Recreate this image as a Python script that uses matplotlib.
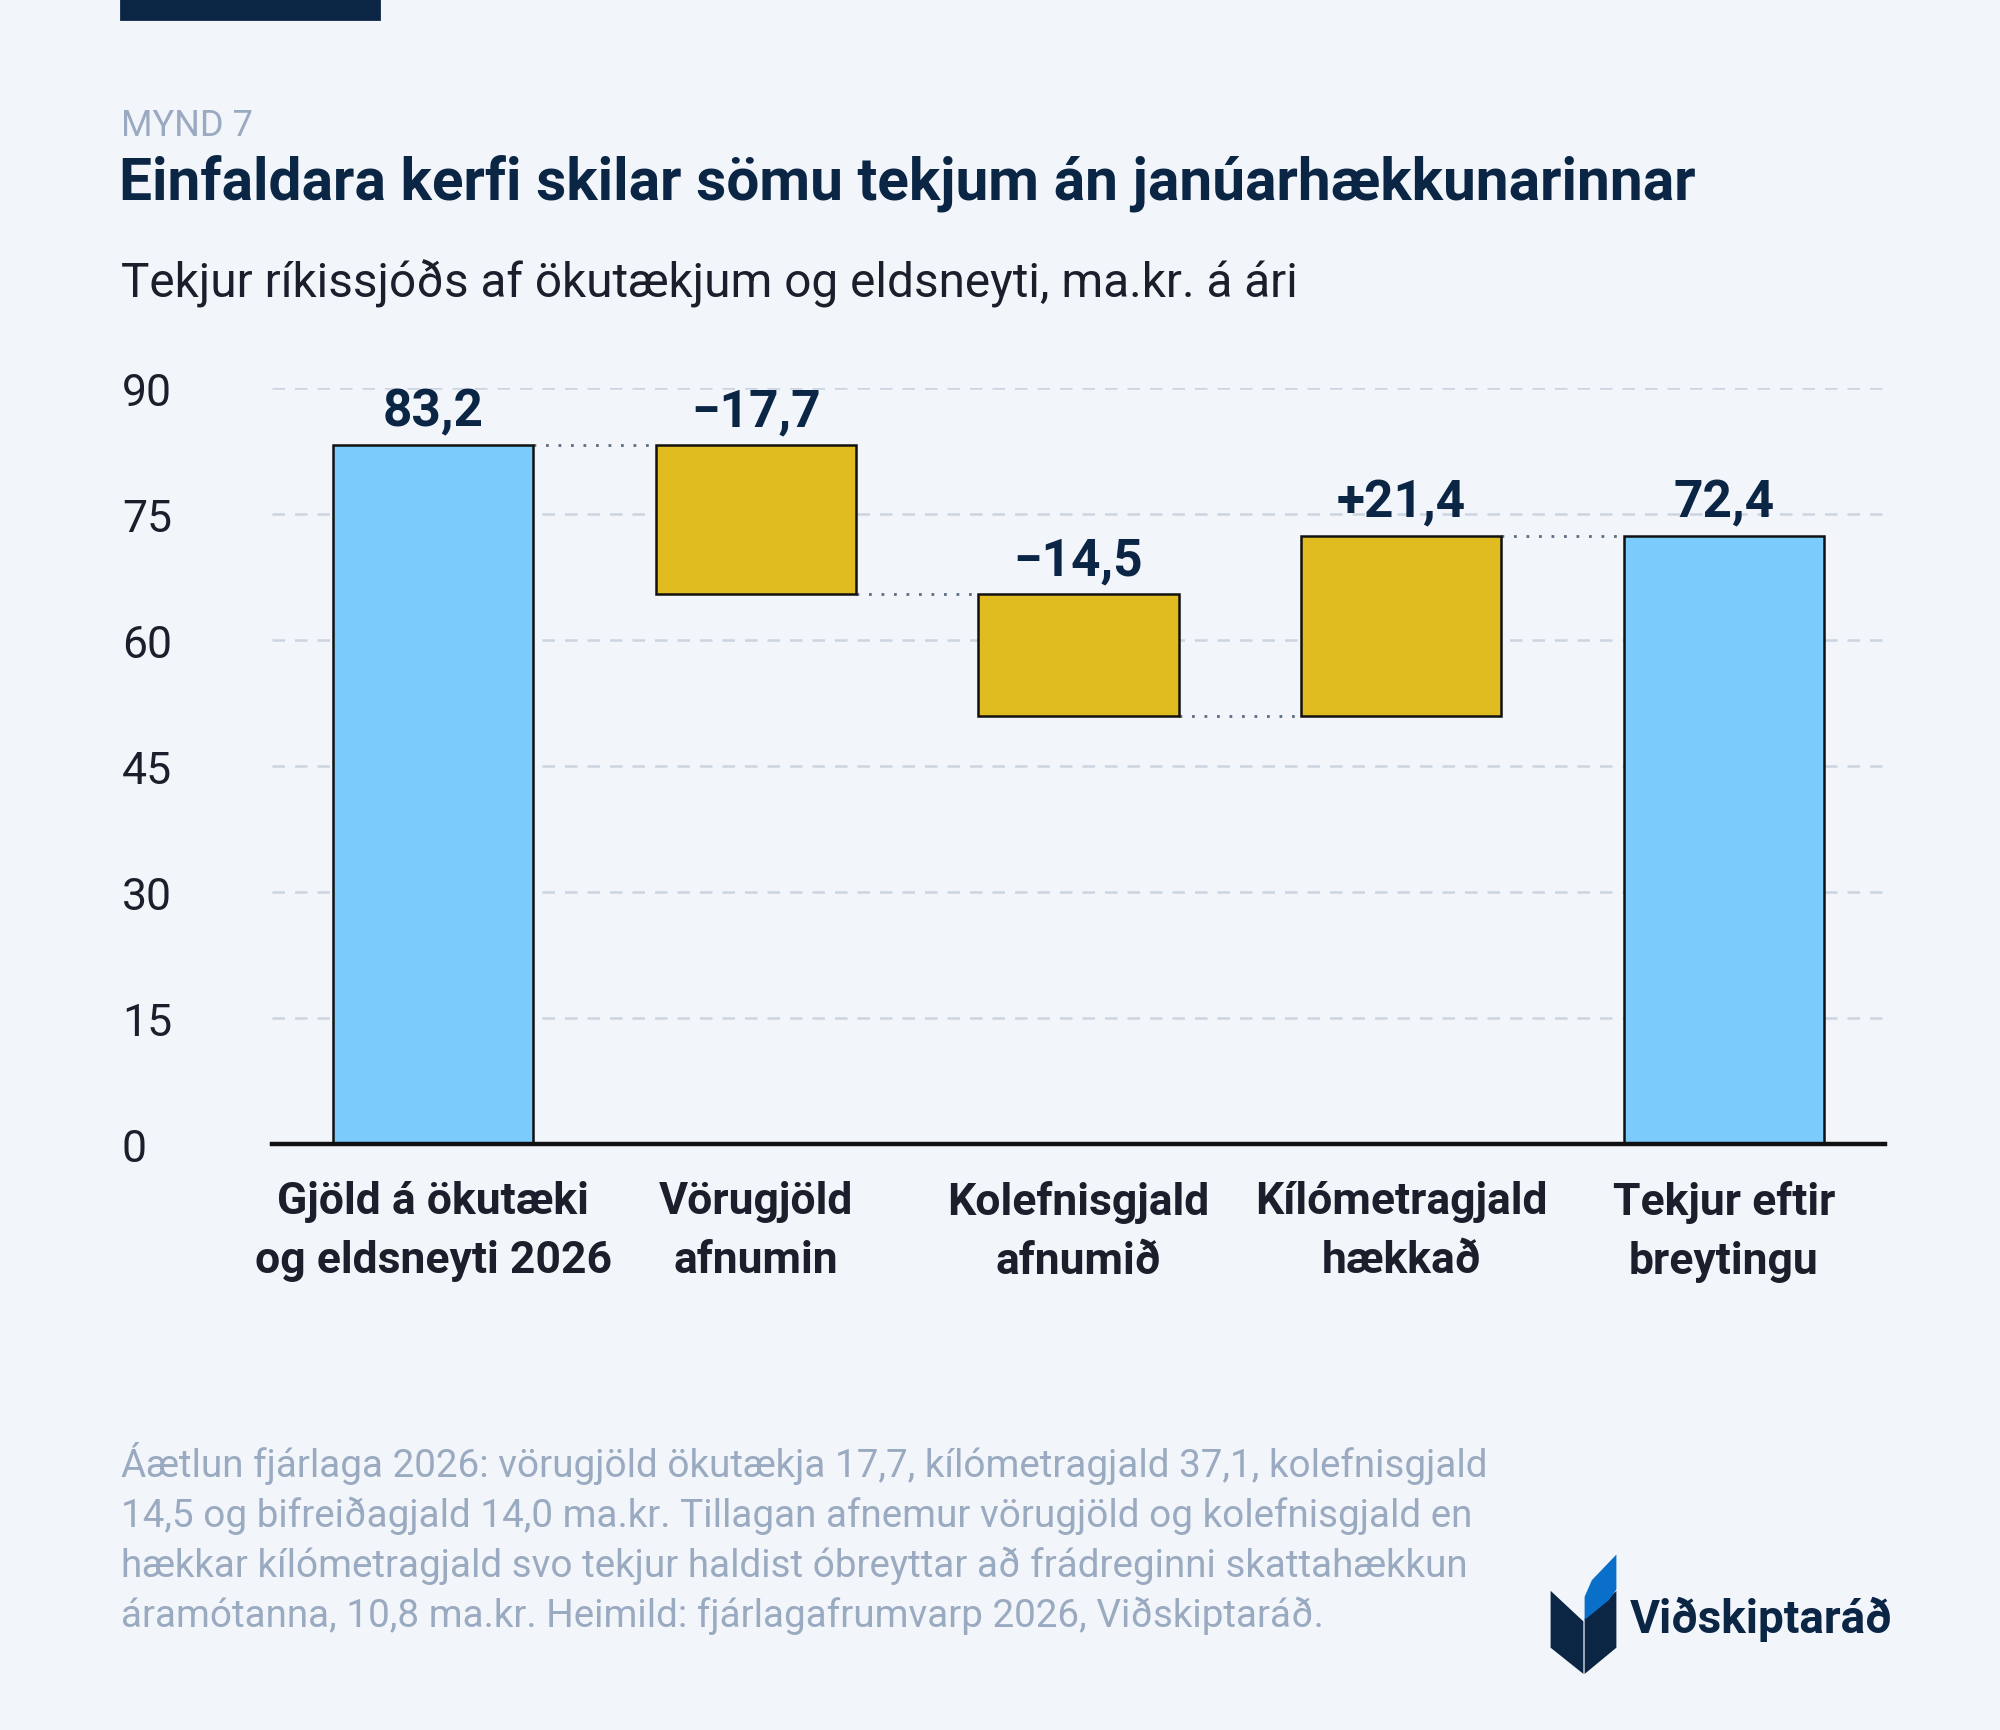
import matplotlib.pyplot as plt
from matplotlib.patches import Polygon, Rectangle

plt.rcParams['font.family'] = ['Roboto', 'DejaVu Sans']

# data
categories = ['Gjöld á ökutæki\nog eldsneyti 2026', 'Vörugjöld\nafnumin', 'Kolefnisgjald\nafnumið',
              'Kílómetragjald\nhækkað', 'Tekjur eftir\nbreytingu']
changes = [83.2, -17.7, -14.5, 21.4, 72.4]
kinds = ['total', 'delta', 'delta', 'delta', 'total']
value_labels = ['83,2', '−17,7', '−14,5', '+21,4', '72,4']
y_ticks = [0, 15, 30, 45, 60, 75, 90]

BG = '#F2F5FA'
NAVY = '#0B2545'
BLUE = '#7CCBFD'
GOLD = '#E0BC20'
GREY = '#9AAAC0'

W, H = 2000, 1731
fig = plt.figure(figsize=(10, H / 200), dpi=200, facecolor=BG)

def fx(px):
    return px / W

def fy(py):
    return 1 - py / H

ax = fig.add_axes([fx(272), fy(1145), fx(1885) - fx(272), fy(389) - fy(1145)])
ax.set_facecolor(BG)

# waterfall bars
bottoms, heights, colors, levels = [], [], [], []
running = 0
for v, k in zip(changes, kinds):
    if k == 'total':
        bottoms.append(0)
        heights.append(v)
        colors.append(BLUE)
        running = v
    else:
        bottoms.append(min(running, running + v))
        heights.append(abs(v))
        colors.append(GOLD)
        running += v
    levels.append(running)

x = list(range(len(categories)))
width = 0.62
ax.bar(x, heights, bottom=bottoms, width=width, color=colors, edgecolor='#111111',
       linewidth=0.9, zorder=3)

# dotted connectors
for i in range(len(x) - 1):
    ax.plot([x[i] + width / 2, x[i + 1] - width / 2], [levels[i], levels[i]],
            linestyle=(0, (1, 3.5)), color='#5E6E82', linewidth=1.0, zorder=2)

# value labels
for i, lab in enumerate(value_labels):
    ax.annotate(lab, (x[i], bottoms[i] + heights[i]), xytext=(0, 7), textcoords='offset points',
                ha='center', va='baseline', fontsize=18.5, fontweight='bold', color=NAVY,
                annotation_clip=False, zorder=4)

ax.set_xlim(-0.5, len(x) - 0.5)
ax.set_ylim(0, 90)
ax.set_yticks(y_ticks)
ax.set_yticklabels([str(t) for t in y_ticks], fontsize=16, color='#1A1F2B', ha='left')
ax.tick_params(axis='y', length=0, pad=54)
ax.set_xticks(x)
ax.set_xticklabels(categories, fontsize=16, fontweight='bold', color='#1A1F2B', linespacing=1.5)
ax.tick_params(axis='x', length=0, pad=13)
ax.grid(axis='y', linestyle=(0, (5, 4)), color='#CBD4E0', linewidth=0.9, zorder=0)
ax.set_axisbelow(True)
for s in ['top', 'right', 'left']:
    ax.spines[s].set_visible(False)
ax.spines['bottom'].set_color('#111111')
ax.spines['bottom'].set_linewidth(1.6)
ax.spines['bottom'].set_zorder(5)

# header
fig.patches.append(Rectangle((fx(121), fy(20)), fx(379) - fx(121), fy(0) - fy(20),
                             transform=fig.transFigure, color=NAVY))
fig.text(fx(121), fy(136), 'MYND 7', fontsize=13, color=GREY, va='baseline')
fig.text(fx(119), fy(200), 'Einfaldara kerfi skilar sömu tekjum án janúarhækkunarinnar',
         fontsize=21.1, fontweight='bold', color=NAVY, va='baseline')
fig.text(fx(121), fy(298), 'Tekjur ríkissjóðs af ökutækjum og eldsneyti, ma.kr. á ári',
         fontsize=17.2, color='#1A1F2B', va='baseline')

# footnote
note_lines = [
    'Áætlun fjárlaga 2026: vörugjöld ökutækja 17,7, kílómetragjald 37,1, kolefnisgjald',
    '14,5 og bifreiðagjald 14,0 ma.kr. Tillagan afnemur vörugjöld og kolefnisgjald en',
    'hækkar kílómetragjald svo tekjur haldist óbreyttar að frádreginni skattahækkun',
    'áramótanna, 10,8 ma.kr. Heimild: fjárlagafrumvarp 2026, Viðskiptaráð.',
]
for i, line in enumerate(note_lines):
    fig.text(fx(121), fy(1477 + 50 * i), line, fontsize=13.9, color=GREY, va='baseline')

# logo
left_leaf = [(1552, 1595), (1552, 1648), (1582, 1672), (1582, 1623)]
right_leaf = [(1586, 1620), (1615, 1595), (1615, 1648), (1586, 1672)]
blue_leaf = [(1586, 1618), (1586, 1598), (1593, 1582), (1615, 1559), (1615, 1590), (1608, 1600)]
for pts, c in [(left_leaf, NAVY), (right_leaf, NAVY), (blue_leaf, '#0A6FC8')]:
    fig.patches.append(Polygon([(fx(a), fy(b)) for a, b in pts], closed=True,
                               transform=fig.transFigure, color=c))
fig.text(fx(1630), fy(1633), 'Viðskiptaráð', fontsize=16.5, fontweight='bold', color=NAVY,
         va='baseline')

fig.savefig('out.png', dpi=200, facecolor=BG)
